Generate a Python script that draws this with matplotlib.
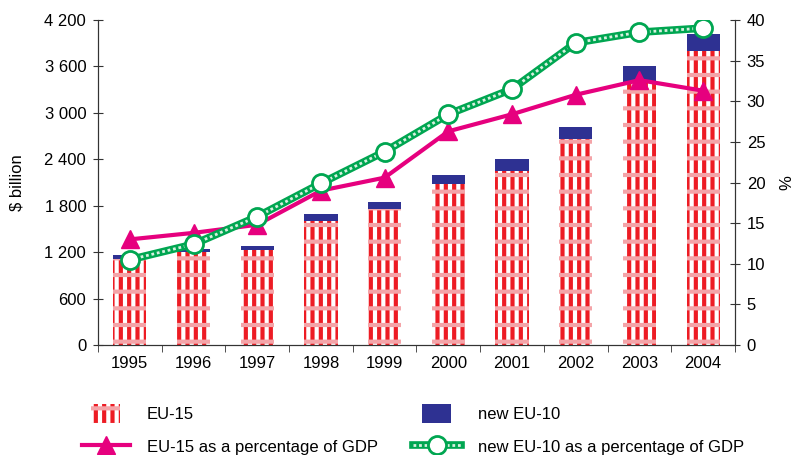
import matplotlib
matplotlib.use("Agg")
import matplotlib.pyplot as plt
from matplotlib.patches import Patch, Rectangle
from matplotlib.lines import Line2D
from matplotlib.legend_handler import HandlerPatch
from matplotlib.ticker import FuncFormatter
import numpy as np

plt.rcParams['font.family'] = ['Liberation Sans', 'DejaVu Sans']
plt.rcParams['hatch.linewidth'] = 3.0

years = ['1995', '1996', '1997', '1998', '1999', '2000', '2001', '2002', '2003', '2004']
eu15 = [1110, 1205, 1225, 1600, 1755, 2080, 2250, 2660, 3400, 3800]
new_eu10 = [55, 35, 55, 90, 90, 115, 155, 155, 205, 215]
eu15_pct = [13.0, 13.8, 14.8, 19.0, 20.6, 26.3, 28.4, 30.8, 32.6, 31.3]
new_eu10_pct = [10.5, 12.4, 15.8, 19.9, 23.8, 28.4, 31.5, 37.2, 38.5, 39.0]

RED = '#ed1c24'
PINK = '#f4a4a8'
BLUE = '#2e3192'
MAGENTA = '#e6007e'
GREEN = '#00a651'
FS = 12

fig = plt.figure(figsize=(7.94, 4.55), dpi=100)
ax = fig.add_axes([0.1234, 0.2418, 0.8023, 0.7142])
ax2 = ax.twinx()

x = np.arange(len(years))
# EU-15 bars: red vertical stripes with pink horizontal bands
ax.bar(x, eu15, width=0.52, facecolor='white', edgecolor=RED, hatch='||', linewidth=0, zorder=2)
ax.bar(x, eu15, width=0.52, facecolor='none', edgecolor=PINK, hatch='-', linewidth=0, zorder=2)
ax.bar(x, new_eu10, width=0.52, bottom=eu15, color=BLUE, linewidth=0, zorder=2)

ax2.plot(x, eu15_pct, color=MAGENTA, lw=3, marker='^', ms=13, mec=MAGENTA, mfc=MAGENTA, zorder=3)
ax2.plot(x, new_eu10_pct, color=GREEN, lw=5.5, solid_capstyle='butt', zorder=4)
ax2.plot(x, new_eu10_pct, color='#d8f0e0', lw=2, ls=(0, (1, 1)), zorder=5)
ax2.plot(x, new_eu10_pct, ls='none', marker='o', ms=13, mfc='white', mec=GREEN, mew=2, zorder=6)

ax.set_xlim(-0.5, len(years) - 0.5)
ax.set_ylim(0, 4200)
ax2.set_ylim(0, 40)
ax.set_yticks(np.arange(0, 4201, 600))
ax.yaxis.set_major_formatter(FuncFormatter(lambda v, p: f"{int(v):,}".replace(",", " ")))
ax2.set_yticks(np.arange(0, 41, 5))

ax.set_xticks(x)
ax.set_xticklabels(years)
ax.set_xticks(np.arange(-0.5, len(years)), minor=True)
ax.tick_params(axis='x', which='major', length=0, labelsize=FS, pad=8)
ax.tick_params(axis='x', which='minor', length=5, direction='out', color='#333333')
ax.tick_params(axis='y', direction='inout', length=7, labelsize=FS, color='#333333', pad=5)
ax2.tick_params(axis='y', direction='inout', length=7, labelsize=FS, color='#333333', pad=5)

for a in (ax, ax2):
    a.spines['top'].set_visible(False)
    for s in ('left', 'right', 'bottom'):
        a.spines[s].set_color('#333333')

ax.set_ylabel('$ billion', fontsize=FS, labelpad=14)
ax2.set_ylabel('%', fontsize=FS, labelpad=10)


def small_rect(legend, orig_handle, xdescent, ydescent, width, height, fontsize):
    w = width * 0.6
    h = height * 1.1
    return Rectangle((-xdescent + (width - w) / 2, -ydescent + (height - h) / 2), w, h)


class StackedHatch(HandlerPatch):
    def create_artists(self, legend, orig_handle, xdescent, ydescent, width, height, fontsize, trans):
        arts = []
        for fc, ec, hatch in (('white', RED, '||'), ('none', PINK, '-')):
            r = small_rect(legend, orig_handle, xdescent, ydescent, width, height, fontsize)
            r.set_facecolor(fc)
            r.set_edgecolor(ec)
            r.set_hatch(hatch)
            r.set_linewidth(0)
            r.set_transform(trans)
            arts.append(r)
        return arts


eu15_handle = Patch(facecolor='white', edgecolor=RED, hatch='||', linewidth=0)
new_handle = Patch(facecolor=BLUE, linewidth=0)
handles = [
    eu15_handle,
    Line2D([], [], color=MAGENTA, lw=3, marker='^', ms=13),
    new_handle,
    (Line2D([], [], color=GREEN, lw=5.5),
     Line2D([], [], color='#d8f0e0', lw=2, ls=(0, (1, 1))),
     Line2D([], [], ls='none', marker='o', ms=13, mfc='white', mec=GREEN, mew=2)),
]
labels = ['EU-15', 'EU-15 as a percentage of GDP', 'new EU-10', 'new EU-10 as a percentage of GDP']
fig.legend(handles, labels, ncol=2, loc='upper left', bbox_to_anchor=(0.0945, 0.125),
           frameon=False, fontsize=FS, handlelength=2.9, handleheight=1.2,
           columnspacing=2.1, handletextpad=1.0, labelspacing=0.95, borderaxespad=0,
           handler_map={eu15_handle: StackedHatch(),
                        new_handle: HandlerPatch(patch_func=small_rect)})

fig.savefig('out.png', dpi=100)
